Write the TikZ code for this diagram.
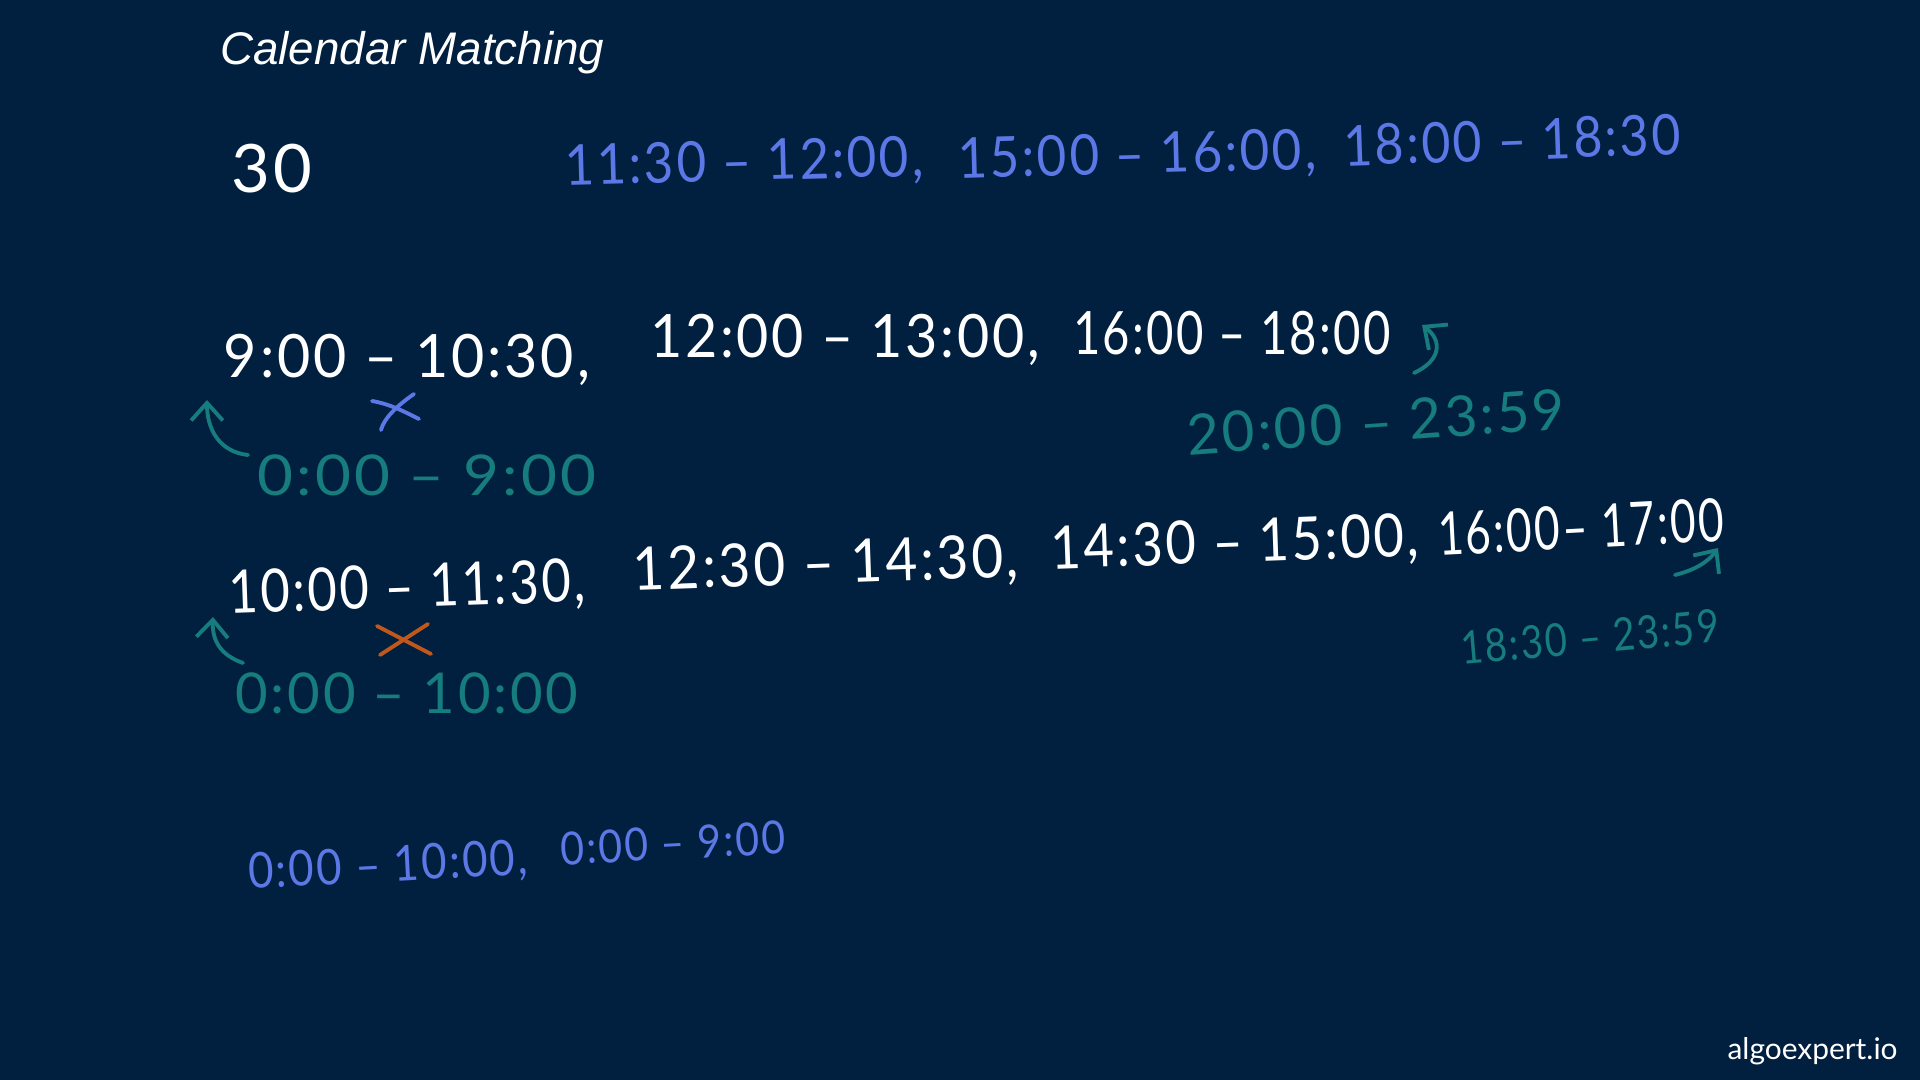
\documentclass[tikz,border=0pt]{standalone}
\usepackage{fontspec}
\setmainfont{Lato}
\newfontfamily\titlefont{Liberation Sans}
\newfontfamily\hand{Lato}[LetterSpace=5]
\usetikzlibrary{arrows.meta}
\definecolor{bgnavy}{RGB}{1,31,62}
\definecolor{penblue}{RGB}{92,120,230}
\definecolor{penteal}{RGB}{22,124,126}
\definecolor{penorange}{RGB}{192,88,28}

\begin{document}
\begin{tikzpicture}[x=0.01cm, y=-0.01cm,
    wtime/.style={text=white, inner sep=0pt, font=\hand\fontsize{17pt}{20pt}\selectfont},
    btime/.style={text=penblue, inner sep=0pt, font=\hand\fontsize{16pt}{19pt}\selectfont},
    ttime/.style={text=penteal, inner sep=0pt, font=\hand\fontsize{16pt}{19pt}\selectfont},
    pen/.style={line width=1.1pt, line cap=round},
    penarrow/.style={pen, penteal, -{Straight Barb[length=5pt, width=9pt]}}]
    % background
    \fill[bgnavy] (0,0) rectangle (1920,1080);
    \useasboundingbox (0,0) rectangle (1920,1080);

    % title, logo
    \node[anchor=west, text=white, font=\titlefont\itshape\fontsize{13pt}{15pt}\selectfont] (title) at (208,53) {Calendar Matching};
    \node[anchor=east, text=white, font=\fontsize{8.5pt}{10pt}\selectfont] (logo) at (1910,1051) {algoexpert.io};

    % duration, merged free slots
    \node[wtime, font=\hand\fontsize{19pt}{22pt}\selectfont] (dur) at (272,169) {30};
    \node[btime, rotate=1.5, xscale=0.91] (b1) at (744,164) {11:30 – 12:00,};
    \node[btime, rotate=1.5, xscale=0.91] (b2) at (1137,157) {15:00 – 16:00,};
    \node[btime, rotate=2, xscale=0.89] (b3) at (1512,140) {18:00 – 18:30};

    % calendar 1
    \node[wtime, xscale=0.96] (w1) at (407,360) {9:00 – 10:30,};
    \node[wtime, xscale=0.93] (w2) at (845,340) {12:00 – 13:00,};
    \node[wtime, xscale=0.79] (w3) at (1232,333) {16:00 – 18:00};
    \node[ttime, xscale=1.1] (t1) at (427,475) {0:00 – 9:00};
    \node[ttime, rotate=4] (t2) at (1376,422) {20:00 – 23:59};

    % calendar 2
    \node[wtime, rotate=2, xscale=0.85] (w4) at (407,590) {10:00 – 11:30,};
    \node[wtime, rotate=2, xscale=0.92] (w5) at (826,566) {12:30 – 14:30,};
    \node[wtime, rotate=2, xscale=0.88] (w6) at (1235,545) {14:30 – 15:00,};
    \node[wtime, rotate=3, xscale=0.74] (w7) at (1581,527) {16:00– 17:00};
    \node[ttime, rotate=5, xscale=0.84, font=\hand\fontsize{13pt}{16pt}\selectfont] (t3) at (1590,637) {18:30 – 23:59};
    \node[ttime] (t4) at (407,693) {0:00 – 10:00};

    % bounds
    \node[btime, rotate=3, xscale=0.89, font=\hand\fontsize{14pt}{17pt}\selectfont] (b4) at (388,867) {0:00 – 10:00,};
    \node[btime, rotate=3, xscale=0.9, font=\hand\fontsize{13pt}{16pt}\selectfont] (b5) at (673,843) {0:00 – 9:00};

    % pointers to the added slots
    \coordinate (a1) at (248,455);
    \coordinate (a2) at (207,400);
    \draw[penarrow] (a1) .. controls (220,452) and (207,430) .. (a2);
    \coordinate (a3) at (1414,373);
    \coordinate (a4) at (1422,325);
    \draw[penarrow] (a3) .. controls (1442,360) and (1442,340) .. (a4);
    \coordinate (a5) at (1675,575);
    \coordinate (a6) at (1718,548);
    \draw[penarrow] (a5) .. controls (1695,570) and (1708,562) .. (a6);
    \coordinate (a7) at (243,663);
    \coordinate (a8) at (213,617);
    \draw[penarrow] (a7) .. controls (220,655) and (212,640) .. (a8);

    % crossings
    \draw[pen, penblue] (372,401) .. controls (390,404) and (405,412) .. (419,419);
    \draw[pen, penblue] (414,394) .. controls (398,405) and (384,418) .. (381,430);
    \draw[pen, penorange] (377,626) -- (431,654);
    \draw[pen, penorange] (428,624) -- (380,655);
\end{tikzpicture}
\end{document}
